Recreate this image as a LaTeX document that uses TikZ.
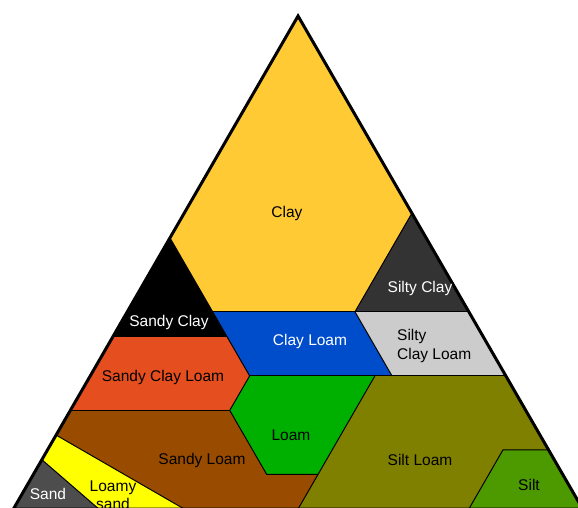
\documentclass[tikz,border=0pt]{standalone}
\usepackage{fontspec}
\setmainfont{Liberation Sans}
\definecolor{clayC}{RGB}{255,202,51}
\definecolor{sandyclayC}{RGB}{0,0,0}
\definecolor{siltyclayC}{RGB}{51,51,51}
\definecolor{clayloamC}{RGB}{0,77,204}
\definecolor{siltyclayloamC}{RGB}{204,204,204}
\definecolor{sandyclayloamC}{RGB}{229,78,30}
\definecolor{loamC}{RGB}{0,176,0}
\definecolor{siltloamC}{RGB}{128,128,0}
\definecolor{siltC}{RGB}{76,153,0}
\definecolor{sandyloamC}{RGB}{153,76,0}
\definecolor{loamysandC}{RGB}{255,255,0}
\definecolor{sandC}{RGB}{77,77,77}
\begin{document}
\begin{tikzpicture}[x=1pt,y=1pt,
  region/.style={draw=black, line width=1pt, line join=round},
  lab/.style={font=\fontsize{15.5}{18.5}\selectfont, text=black, inner sep=0pt},
  wlab/.style={lab, text=white}]
\useasboundingbox (0,0) rectangle (578,507);
\clip (0,0) rectangle (578,507);
% texture-triangle vertices, named p<sand>-<clay> (percent)
\foreach \s/\c in {0/100,45/55,65/35,80/20,85/15,90/10,100/0,85/0,70/0,50/0,20/0,
                   0/0,0/12,0/27,0/40,0/60,20/40,45/40,45/35,45/27,20/27,23/27,
                   52/20,52/7,43/7,8/12}
  \coordinate (p\s-\c) at ({13.4+(100-\s-\c/2)*5.693},{\c*4.93-2});
% texture classes
\fill[clayC]          (p45-55) -- (p0-100) -- (p0-60) -- (p20-40) -- (p45-40) -- cycle;
\fill[sandyclayC]     (p65-35) -- (p45-55) -- (p45-35) -- cycle;
\fill[siltyclayC]     (p0-60) -- (p0-40) -- (p20-40) -- cycle;
\fill[clayloamC]      (p45-40) -- (p20-40) -- (p20-27) -- (p45-27) -- cycle;
\fill[siltyclayloamC] (p20-40) -- (p0-40) -- (p0-27) -- (p20-27) -- cycle;
\fill[sandyclayloamC] (p80-20) -- (p65-35) -- (p45-35) -- (p45-27) -- (p52-20) -- cycle;
\fill[loamC]          (p45-27) -- (p23-27) -- (p43-7) -- (p52-7) -- (p52-20) -- cycle;
\fill[siltloamC]      (p23-27) -- (p0-27) -- (p0-12) -- (p8-12) -- (p20-0) -- (p50-0) -- (p43-7) -- cycle;
\fill[siltC]          (p0-12) -- (p0-0) -- (p20-0) -- (p8-12) -- cycle;
\fill[sandyloamC]     (p80-20) -- (p52-20) -- (p52-7) -- (p43-7) -- (p50-0) -- (p70-0) -- (p85-15) -- cycle;
\fill[loamysandC]     (p85-15) -- (p70-0) -- (p85-0) -- (p90-10) -- cycle;
\fill[sandC]          (p90-10) -- (p85-0) -- (p100-0) -- cycle;
% class boundaries
\draw[region] (p45-55) -- (p45-27) -- (p52-20) -- (p52-7) -- (p43-7) -- (p50-0);
\draw[region] (p65-35) -- (p45-35);
\draw[region] (p45-40) -- (p0-40);
\draw[region] (p0-60) -- (p20-40) -- (p20-27);
\draw[region] (p45-27) -- (p0-27);
\draw[region] (p80-20) -- (p52-20);
\draw[region] (p23-27) -- (p43-7);
\draw[region] (p0-12) -- (p8-12) -- (p20-0);
\draw[region] (p85-15) -- (p70-0);
\draw[region] (p90-10) -- (p85-0);
% outline
\draw[line width=3pt, line join=miter] (p100-0) -- (p0-100) -- (p0-0) -- cycle;
% labels
\node[lab]  (tclay)  at (287,294) {Clay};
\node[wlab] (tsic)   at (420,219) {Silty Clay};
\node[wlab] (tsac)   at (169,185) {Sandy Clay};
\node[wlab] (tcl)    at (310,166) {Clay Loam};
\node[lab, align=left, anchor=west] (tsicl) at (397,161) {Silty\\Clay Loam};
\node[lab]  (tscl)   at (163,130) {Sandy Clay Loam};
\node[lab]  (tloam)  at (291,72)  {Loam};
\node[lab]  (tsl)    at (202,47)  {Sandy Loam};
\node[lab]  (tsil)   at (420,47)  {Silt Loam};
\node[lab]  (tsilt)  at (529,22)  {Silt};
\node[lab, align=center] (tls) at (113,12) {Loamy\\sand};
\node[wlab] (tsand)  at (48,13)   {Sand};
\end{tikzpicture}
\end{document}
